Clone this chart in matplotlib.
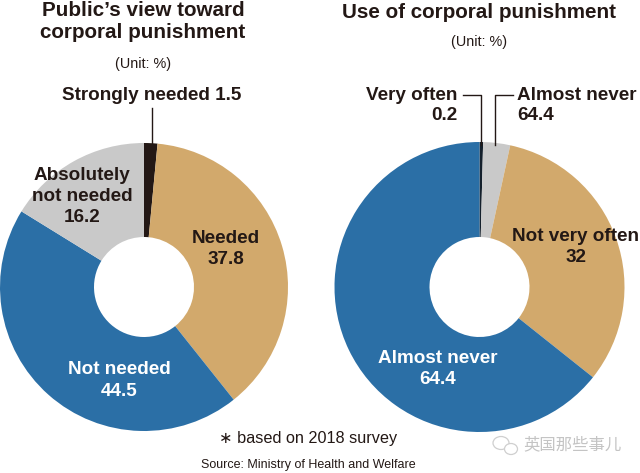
import matplotlib
matplotlib.use("Agg")
import matplotlib.pyplot as plt
from matplotlib.patches import Ellipse

W, H = 640, 473

left_names = ["Strongly needed", "Needed", "Not needed", "Absolutely not needed"]
left_values = [1.5, 37.8, 44.5, 16.2]
left_colors = ["#231815", "#d2a96c", "#2b6fa6", "#c9c9c9"]

right_names = ["Very often", "Almost never (grey)", "Not very often", "Almost never"]
right_values = [0.4, 3.0, 32.3, 64.3]
right_colors = ["#14202c", "#c9c9c9", "#d2a96c", "#2b6fa6"]

plt.rcParams["font.family"] = ["Liberation Sans", "DejaVu Sans"]

fig = plt.figure(figsize=(W / 100, H / 100), dpi=100, facecolor="white")


def donut(cx, cy, r, hole, values, colors):
    ax = fig.add_axes([(cx - r) / W, 1 - (cy + r) / H, 2 * r / W, 2 * r / H])
    ax.pie(values, colors=colors, startangle=90, counterclock=False, radius=1,
           wedgeprops=dict(width=1 - hole / r, linewidth=0))
    ax.set_xlim(-1, 1)
    ax.set_ylim(-1, 1)
    ax.set_aspect("equal")
    ax.axis("off")


def label(x, y, s, size=13.6, weight="bold", color="#231815", ha="center", **kw):
    fig.text(x / W, 1 - y / H, s, fontsize=size, fontweight=weight, color=color,
             ha=ha, va="center", linespacing=1.05, **kw)


def leader(xs, ys, lw=1.0):
    fig.add_artist(plt.Line2D([x / W for x in xs], [1 - y / H for y in ys],
                              color="#231815", lw=lw))


donut(144, 287, 144, 50, left_values, left_colors)
donut(479.5, 287, 145, 50, right_values, right_colors)

# titles
label(143, 10, "Public\u2019s view toward", size=14.9)
label(143, 33, "corporal punishment", size=14.9)
label(143, 64, "(Unit: %)", size=10.4, weight="normal")
label(479, 12, "Use of corporal punishment", size=14.9)
label(479, 42, "(Unit: %)", size=10.4, weight="normal")

# left donut labels
label(152, 95, "Strongly needed 1.5")
leader([152, 152], [108, 146])
label(82, 175, "Absolutely")
label(82, 196, "not needed")
label(82, 217, "16.2")
label(226, 238, "Needed")
label(226, 260, "37.8")
label(119, 370, "Not needed", color="white")
label(119, 392, "44.5", color="white")

# right donut labels
label(457, 95, "Very often", ha="right")
label(457, 116, "0.2", ha="right")
leader([463, 481, 481], [95, 95, 145])
label(517, 95, "Almost never", ha="left")
label(517, 116, "64.4", ha="left")
leader([513, 495, 495], [95, 95, 145])
label(576, 236, "Not very often")
label(576, 258, "32")
label(438, 358, "Almost never", color="white")
label(438, 379, "64.4", color="white")

# footer
label(308, 438, "\u2217 based on 2018 survey", size=11.7, weight="normal")
label(308, 465, "Source: Ministry of Health and Welfare", size=9, weight="normal")

# watermark
label(572, 445, "英国那些事儿", size=11.8, weight="normal", color="#c4c4c4",
      family=["Noto Sans CJK SC", "DejaVu Sans"])
for ex, ey, ew, eh in [(501, 443, 16, 13), (511, 449, 13, 11)]:
    fig.add_artist(Ellipse((ex / W, 1 - ey / H), ew / W, eh / H, fill=True,
                           facecolor="white", edgecolor="#cfcfcf", lw=0.9,
                           transform=fig.transFigure))

fig.savefig("out.png", dpi=100, facecolor="white")
